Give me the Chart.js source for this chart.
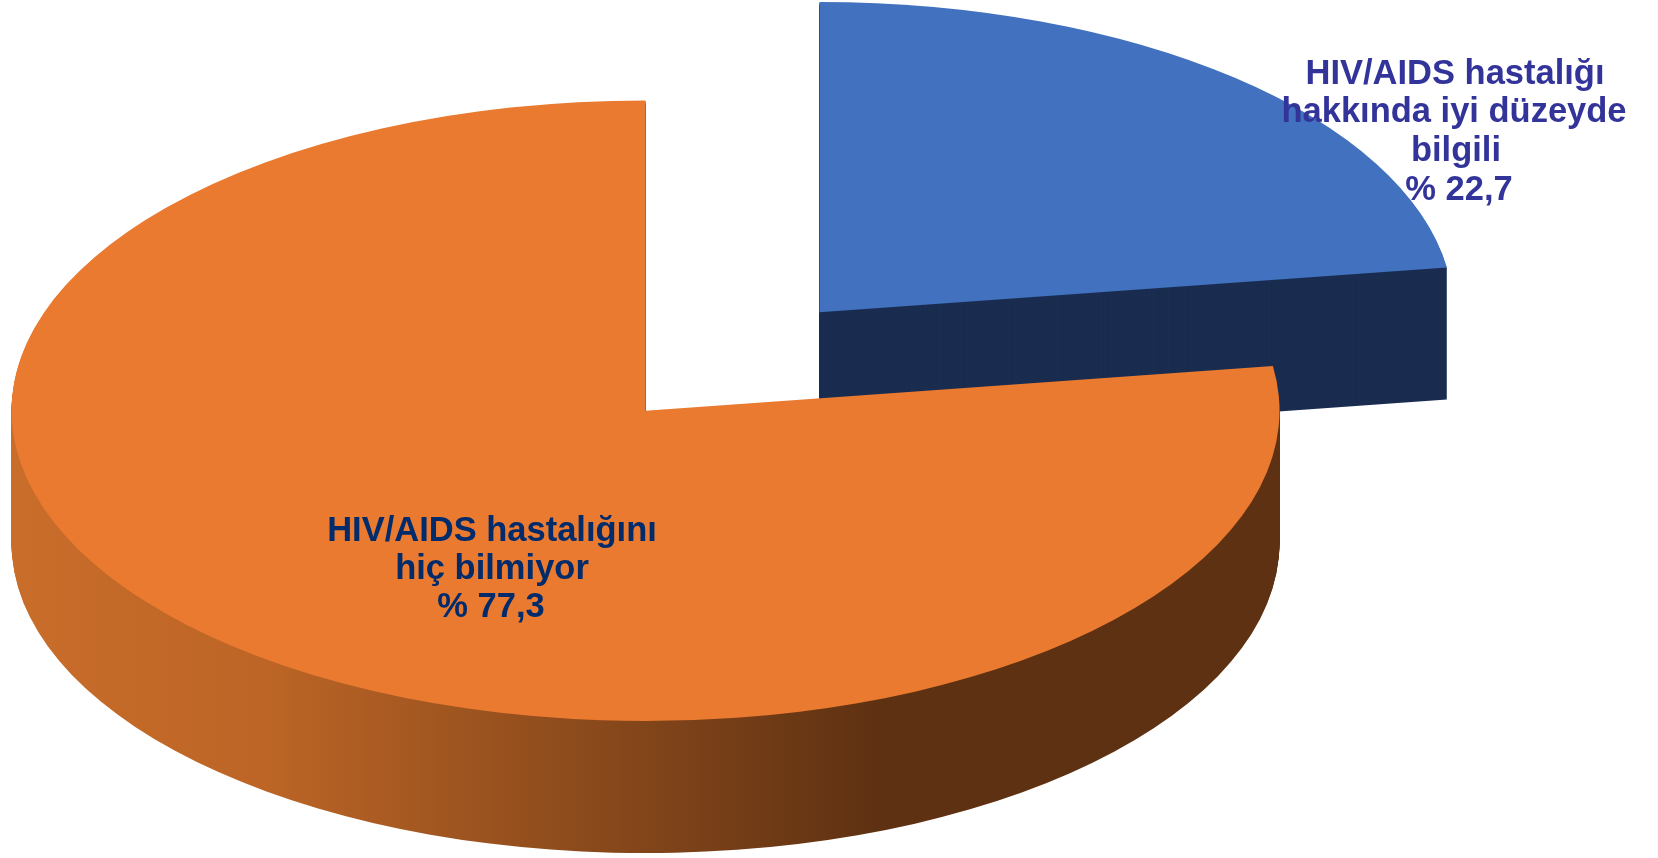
<!DOCTYPE html>
<html><head><meta charset="utf-8">
<style>html,body{margin:0;padding:0;background:#fff;overflow:hidden}#w{width:1658px;height:858px}</style>
<script src="https://cdn.jsdelivr.net/npm/chart.js@4"></script></head>
<body><div id="w"><canvas id="c" width="1658" height="858"></canvas></div>
<script>
const categories = ["HIV/AIDS hastalığı hakkında iyi düzeyde bilgili", "HIV/AIDS hastalığını hiç bilmiyor"];
const values = [22.7, 77.3];
const topColors = ["#4171BF", "#E97A30"];
const labelLines = [
  ["HIV/AIDS hastalığı", "hakkında iyi düzeyde", "bilgili", "% 22,7"],
  ["HIV/AIDS hastalığını", "hiç bilmiyor", "% 77,3"]
];
const labelColors = ["#33349A", "#012B6B"];
const labelXs = [[1455, 1454, 1456, 1459], [492, 492, 491]];
const labelTops = [83.5, 540.7];
const labelSteps = [38.7, 38];
const squash = 0.4895, depth = 132, pieRadius = 634, explode = 133;

const burst = (a) => {
  const mid = a.startAngle + a.circumference / 2;
  return [Math.cos(mid) * explode, Math.sin(mid) * explode];
};

const pie3d = {
  id: 'pie3d',
  afterDatasetUpdate(chart, args) {
    // Explode each slice along its own mid-angle, inside the tilted drawing space.
    args.meta.data.forEach(a => {
      const draw = a.draw;
      a.draw = function (ctx, area) {
        const [dx, dy] = burst(this);
        ctx.save(); ctx.translate(dx, dy); draw.call(this, ctx, area); ctx.restore();
      };
    });
  },
  beforeDatasetDraw(chart, args) {
    const ctx = chart.ctx, arcs = args.meta.data;
    const cy = arcs[0].y;
    const tilt = () => { ctx.translate(0, cy); ctx.scale(1, squash); ctx.translate(0, -cy); };
    const slicePath = (a) => {
      const [dx, dy] = burst(a);
      const x = a.x + dx, y = a.y + dy;
      ctx.beginPath(); ctx.moveTo(x, y);
      ctx.arc(x, y, a.outerRadius, a.startAngle, a.endAngle); ctx.closePath();
    };
    const grad = ctx.createLinearGradient(12, 0, 1282, 0);
    grad.addColorStop(0, '#C96D2A');
    grad.addColorStop(0.2, '#BC6526');
    grad.addColorStop(0.683, '#5E3112');
    grad.addColorStop(1, '#5E3112');
    const sides = ['#1A2D50', grad];
    arcs.forEach((a, i) => {
      for (let d = depth; d > 0; d -= 1) {
        ctx.save(); ctx.translate(0, d); tilt();
        ctx.fillStyle = sides[i]; slicePath(a); ctx.fill(); ctx.restore();
      }
    });
    ctx.save(); tilt();
  },
  afterDatasetDraw(chart) { chart.ctx.restore(); },
  afterDraw(chart) {
    const ctx = chart.ctx;
    ctx.save();
    ctx.font = 'bold 34.5px "Liberation Sans", Arial, sans-serif';
    ctx.textAlign = 'center'; ctx.textBaseline = 'alphabetic';
    labelLines.forEach((lines, i) => {
      ctx.fillStyle = labelColors[i];
      lines.forEach((t, j) => ctx.fillText(t, labelXs[i][j], labelTops[i] + j * labelSteps[i]));
    });
    ctx.restore();
  }
};

new Chart(document.getElementById('c'), {
  type: 'pie',
  data: { labels: categories, datasets: [{ data: values, backgroundColor: topColors, borderWidth: 0, clip: false }] },
  options: {
    responsive: false, animation: false, radius: pieRadius,
    layout: { padding: { right: 193, bottom: 135 } },
    plugins: { legend: { display: false }, tooltip: { enabled: false } }
  },
  plugins: [pie3d]
});
</script></body></html>
